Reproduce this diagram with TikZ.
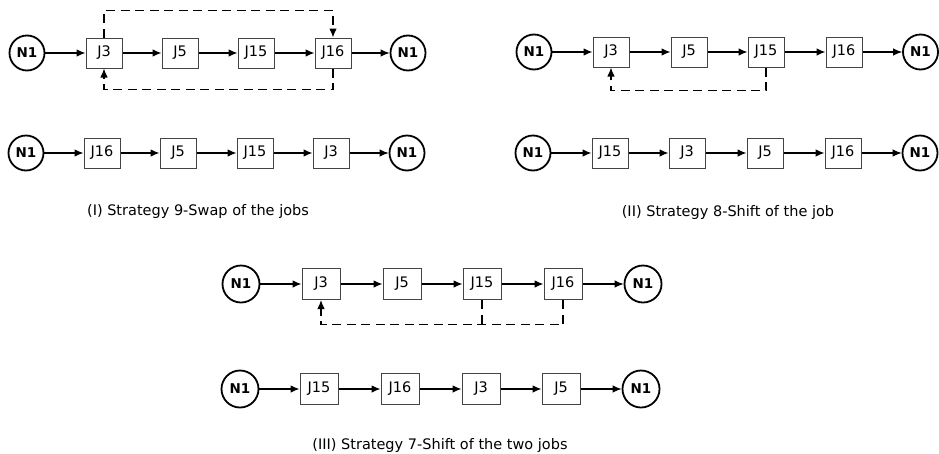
\documentclass[tikz,border=0pt]{standalone}
\usepackage{fontspec}
\setmainfont{DejaVu Sans}
\usetikzlibrary{arrows.meta}

\definecolor{boxline}{HTML}{444444}

\tikzset{
  job/.style={draw=boxline, line width=1pt, minimum width=36pt, minimum height=30pt,
    inner sep=0pt, font=\fontsize{14.5}{16}\selectfont},
  jobbig/.style={job, minimum width=38pt, minimum height=31pt},
  term/.style={circle, draw=black, line width=1.8pt, minimum size=35pt, inner sep=0pt,
    font=\fontsize{13.5}{15}\selectfont\bfseries},
  termbig/.style={term, minimum size=37pt},
  flow/.style={-{Latex[length=9pt,width=7.5pt]}, line width=1.1pt},
  moveline/.style={flow, dash pattern=on 9pt off 5.5pt},
  moveplain/.style={line width=1.1pt, dash pattern=on 9pt off 5.5pt},
  caption/.style={font=\fontsize{14.5}{17}\selectfont}
}

\begin{document}
\begin{tikzpicture}[x=1pt, y=-1pt]
\useasboundingbox (0,0) rectangle (939,453);

% ---------- (I) swap of two jobs ----------
\node[term] (ia0) at (27,53) {N1};
\node[job]  (ia1) at (104,53) {J3};
\node[job]  (ia2) at (180,53) {J5};
\node[job]  (ia3) at (256,53) {J15};
\node[job]  (ia4) at (333,53) {J16};
\node[term] (ia5) at (408,53) {N1};
\foreach \a/\b in {ia0/ia1, ia1/ia2, ia2/ia3, ia3/ia4, ia4/ia5}
  \draw[flow] (\a) -- (\b);
\draw[moveline] (ia1.north) -- ++(0,-27) -| (ia4.north);
\draw[moveline] (ia4.south) -- ++(0,21) -| (ia1.south);

\node[term] (ib0) at (26,153) {N1};
\node[job]  (ib1) at (102,153) {J16};
\node[job]  (ib2) at (178,153) {J5};
\node[job]  (ib3) at (255,153) {J15};
\node[job]  (ib4) at (331,153) {J3};
\node[term] (ib5) at (407,153) {N1};
\foreach \a/\b in {ib0/ib1, ib1/ib2, ib2/ib3, ib3/ib4, ib4/ib5}
  \draw[flow] (\a) -- (\b);

\node[caption] (capi) at (198,211) {(I) Strategy 9-Swap of the jobs};

% ---------- (II) shift of one job ----------
\node[term] (iia0) at (534,52) {N1};
\node[job]  (iia1) at (611,52) {J3};
\node[job]  (iia2) at (689,52) {J5};
\node[job]  (iia3) at (766,52) {J15};
\node[job]  (iia4) at (844,52) {J16};
\node[term] (iia5) at (920.5,52) {N1};
\foreach \a/\b in {iia0/iia1, iia1/iia2, iia2/iia3, iia3/iia4, iia4/iia5}
  \draw[flow] (\a) -- (\b);
\draw[moveline] (iia3.south) -- ++(0,23) -| (iia1.south);

\node[term] (iib0) at (533,153) {N1};
\node[job]  (iib1) at (610,153) {J15};
\node[job]  (iib2) at (687,153) {J3};
\node[job]  (iib3) at (765,153) {J5};
\node[job]  (iib4) at (843,153) {J16};
\node[term] (iib5) at (920,153) {N1};
\foreach \a/\b in {iib0/iib1, iib1/iib2, iib2/iib3, iib3/iib4, iib4/iib5}
  \draw[flow] (\a) -- (\b);

\node[caption] (capii) at (728,212) {(II) Strategy 8-Shift of the job};

% ---------- (III) shift of two jobs ----------
\node[termbig] (iiia0) at (241,284) {N1};
\node[jobbig]  (iiia1) at (321,284) {J3};
\node[jobbig]  (iiia2) at (402,284) {J5};
\node[jobbig]  (iiia3) at (482,284) {J15};
\node[jobbig]  (iiia4) at (563,284) {J16};
\node[termbig] (iiia5) at (643,284) {N1};
\foreach \a/\b in {iiia0/iiia1, iiia1/iiia2, iiia2/iiia3, iiia3/iiia4, iiia4/iiia5}
  \draw[flow] (\a) -- (\b);
\draw[moveline] (iiia4.south) -- ++(0,24.5) coordinate (iiim) -| (iiia1.south);
\draw[moveplain] (iiia3.south) -- (iiia3.south |- iiim);

\node[termbig] (iiib0) at (240,389) {N1};
\node[jobbig]  (iiib1) at (319,389) {J15};
\node[jobbig]  (iiib2) at (400,389) {J16};
\node[jobbig]  (iiib3) at (481,389) {J3};
\node[jobbig]  (iiib4) at (561,389) {J5};
\node[termbig] (iiib5) at (641,389) {N1};
\foreach \a/\b in {iiib0/iiib1, iiib1/iiib2, iiib2/iiib3, iiib3/iiib4, iiib4/iiib5}
  \draw[flow] (\a) -- (\b);

\node[caption] (capiii) at (440,445) {(III) Strategy 7-Shift of the two jobs};
\end{tikzpicture}
\end{document}
